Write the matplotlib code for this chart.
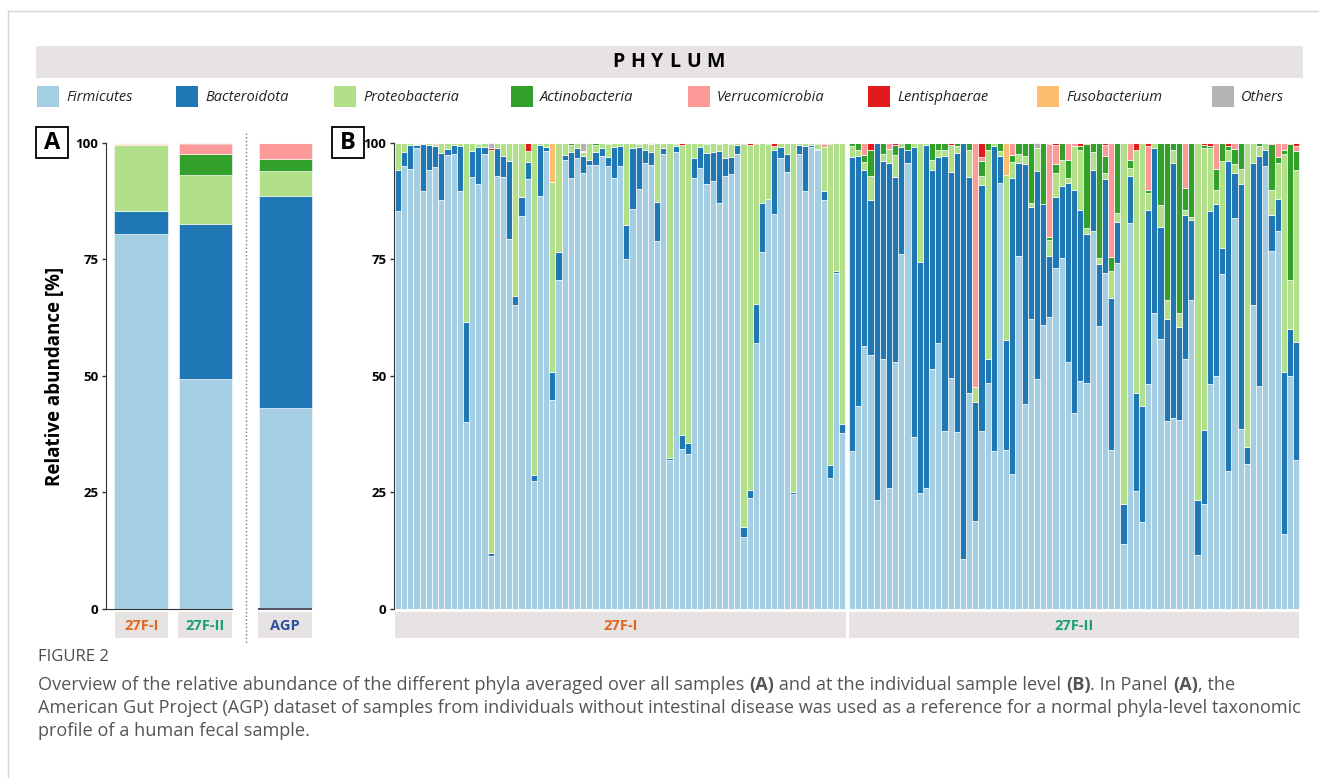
import numpy as np
import matplotlib.pyplot as plt
from matplotlib.patches import Rectangle

plt.rcParams['font.family'] = ['Open Sans', 'DejaVu Sans']

W, H = 1319, 778

phyla = ["Firmicutes", "Bacteroidota", "Proteobacteria", "Actinobacteria",
         "Verrucomicrobia", "Lentisphaerae", "Fusobacterium", "Others"]
colors = ["#a6cee3", "#1f78b4", "#b2df8a", "#33a02c",
          "#fb9a99", "#e31a1c", "#fdbf6f", "#b3b3b3"]

# ---- panel A: averaged profiles ----
groups_a = ["27F-I", "27F-II", "AGP"]
group_colors = ["#e0661e", "#1b9e77", "#2e4f9a"]
mean_firm = [80.4, 49.4, 43.1]
mean_bact = [5.0, 33.2, 45.5]
mean_prot = [14.2, 10.6, 5.3]
mean_acti = [0.0, 4.4, 2.7]
mean_verr = [0.1, 2.2, 3.4]
mean_lent = [0.0, 0.2, 0.0]
mean_fuso = [0.3, 0.0, 0.0]
mean_other = [0.0, 0.0, 0.0]

# ---- panel B: individual samples, 27F-I ----
firm_i = [85.3, 95.0, 94.5, 99.0, 89.7, 94.3, 94.8, 87.8, 97.5, 97.7,
          89.6, 40.1, 92.8, 91.2, 97.7, 11.3, 93.0, 92.8, 79.3, 65.3,
          84.3, 92.1, 27.4, 88.7, 98.3, 44.7, 70.6, 96.3, 92.4, 96.8,
          93.5, 95.2, 95.3, 97.3, 95.1, 92.5, 95.0, 75.1, 85.9, 90.2,
          95.7, 95.3, 78.9, 97.7, 31.8, 98.1, 34.2, 33.2, 92.5, 94.6,
          91.2, 91.9, 87.1, 93.0, 93.3, 97.6, 15.4, 23.8, 57.1, 76.5,
          87.9, 84.7, 96.7, 93.7, 24.6, 97.7, 89.6, 99.2, 98.4, 87.8,
          28.0, 72.0, 37.8]
bact_i = [9.0, 3.0, 5.0, 0.5, 10.0, 5.2, 4.5, 10.0, 1.3, 1.8,
          9.7, 21.4, 5.5, 8.0, 1.5, 0.7, 6.0, 4.3, 16.9, 1.8,
          4.0, 3.8, 1.2, 10.8, 0.8, 6.0, 6.0, 1.2, 5.6, 2.2,
          3.6, 1.1, 2.8, 1.6, 1.9, 6.7, 4.3, 7.3, 13.1, 9.0,
          2.9, 2.7, 8.5, 1.2, 0.5, 1.2, 3.0, 2.3, 4.3, 4.5,
          6.7, 6.2, 11.1, 3.7, 3.7, 2.0, 2.2, 1.6, 8.4, 10.6,
          0.0, 13.7, 2.4, 4.0, 0.4, 1.8, 9.7, 0.3, 0.4, 1.8,
          2.9, 0.5, 1.9]
prot_i = [5.7, 2.0, 0.5, 0.2, 0.3, 0.5, 0.4, 2.2, 1.2, 0.5,
          0.7, 38.5, 1.7, 0.6, 0.8, 86.6, 1.0, 2.9, 3.8, 32.9,
          11.7, 2.3, 71.4, 0.5, 0.9, 41.0, 23.4, 2.5, 1.6, 1.0,
          0.9, 3.7, 1.5, 1.1, 2.7, 0.8, 0.7, 17.6, 1.0, 0.5,
          1.4, 1.8, 12.6, 1.1, 67.7, 0.4, 62.3, 64.5, 3.2, 0.9,
          1.8, 1.9, 1.5, 3.3, 2.7, 0.4, 82.1, 74.2, 34.2, 12.9,
          11.9, 0.9, 0.9, 2.3, 75.0, 0.5, 0.7, 0.5, 0.9, 9.5,
          68.8, 27.5, 60.3]
acti_i = [0, 0, 0, 0, 0, 0, 0, 0, 0, 0,
          0, 0, 0, 0.2, 0, 0, 0, 0, 0, 0,
          0, 0, 0, 0, 0, 0, 0, 0, 0.4, 0,
          0, 0, 0.4, 0, 0.3, 0, 0, 0, 0, 0.3,
          0, 0, 0, 0, 0, 0.3, 0, 0, 0, 0,
          0.3, 0, 0.3, 0, 0.3, 0, 0, 0, 0, 0,
          0.2, 0, 0, 0, 0, 0, 0, 0, 0.3, 0,
          0, 0, 0]
verr_i = [0] * 69 + [0.6, 0, 0, 0]
lent_i = [0, 0, 0, 0, 0, 0, 0.3, 0, 0, 0,
          0, 0, 0, 0, 0, 0.3, 0, 0, 0, 0,
          0, 1.7, 0, 0, 0, 0, 0, 0, 0, 0,
          0, 0, 0, 0, 0, 0, 0, 0, 0, 0,
          0, 0, 0, 0, 0, 0, 0.5, 0, 0, 0,
          0, 0, 0, 0, 0, 0, 0.3, 0.4, 0.3, 0,
          0, 0.7, 0, 0, 0, 0, 0, 0, 0, 0.3,
          0.3, 0, 0]
fuso_i = [0, 0, 0, 0.3, 0, 0, 0, 0, 0, 0,
          0, 0, 0, 0, 0, 0, 0, 0, 0, 0,
          0, 0, 0, 0, 0, 8.3, 0, 0, 0, 0,
          0.2, 0, 0, 0, 0, 0, 0, 0, 0, 0,
          0, 0, 0, 0, 0, 0, 0, 0, 0, 0,
          0, 0, 0, 0, 0, 0, 0, 0, 0, 0,
          0, 0, 0, 0, 0, 0, 0, 0, 0, 0,
          0, 0, 0]
other_i = [0, 0, 0, 0, 0, 0, 0, 0, 0, 0,
           0, 0, 0, 0, 0, 1.1, 0, 0, 0, 0,
           0, 0, 0, 0, 0, 0, 0, 0, 0, 0,
           1.8, 0, 0, 0, 0, 0, 0, 0, 0, 0,
           0, 0.2, 0, 0, 0, 0, 0, 0, 0, 0,
           0, 0, 0, 0, 0, 0, 0, 0, 0, 0,
           0, 0, 0, 0, 0, 0, 0, 0, 0, 0,
           0, 0, 0]

# ---- panel B: individual samples, 27F-II ----
firm_ii = [33.8, 43.6, 56.4, 54.4, 23.4, 53.6, 25.8, 53.0, 76.1, 95.7,
           36.8, 24.8, 25.9, 51.4, 57.1, 38.1, 49.6, 37.9, 10.6, 46.3,
           18.7, 38.1, 48.5, 33.8, 91.5, 34.1, 28.8, 75.8, 44.0, 62.1,
           49.4, 60.9, 62.7, 73.2, 75.2, 53.0, 42.0, 48.9, 48.5, 81.1,
           60.7, 72.0, 34.0, 74.2, 13.9, 82.8, 25.3, 18.5, 48.2, 63.4,
           57.8, 40.3, 41.0, 40.6, 53.7, 66.3, 11.5, 22.5, 48.2, 50.0,
           71.8, 29.6, 83.8, 38.6, 31.1, 65.2, 47.9, 95.1, 76.7, 81.1,
           16.0, 50.0, 31.8]
bact_ii = [63.2, 53.5, 37.9, 33.4, 76.5, 42.5, 69.9, 39.6, 23.0, 2.7,
           62.3, 49.7, 73.6, 42.7, 39.8, 59.2, 44.1, 59.9, 89.3, 46.5,
           25.6, 52.9, 5.2, 65.5, 5.7, 23.5, 63.7, 19.9, 51.5, 24.1,
           44.5, 26.0, 13.1, 15.3, 15.6, 38.4, 48.0, 36.6, 31.9, 13.1,
           13.4, 20.2, 32.8, 8.8, 8.6, 10.2, 21.0, 24.9, 37.3, 35.6,
           24.1, 21.8, 54.7, 19.8, 30.9, 17.2, 11.8, 15.8, 37.1, 36.8,
           5.7, 66.6, 9.7, 52.5, 3.7, 30.4, 49.2, 3.3, 7.8, 6.9,
           34.8, 10.1, 25.5]
prot_ii = [2.3, 1.5, 1.6, 5.1, 0.1, 1.5, 3.1, 4.9, 0.9, 0.0,
           0.9, 25.5, 0.5, 2.2, 1.5, 1.1, 5.9, 1.5, 0.1, 5.6,
           3.3, 1.9, 44.7, 0.7, 1.0, 35.6, 3.4, 2.0, 1.8, 0.9,
           5.0, 0.0, 3.4, 5.0, 5.6, 1.1, 9.3, 12.9, 1.4, 3.9,
           1.1, 1.3, 5.6, 2.0, 77.5, 1.6, 52.1, 56.6, 3.8, 1.0,
           4.7, 4.2, 2.7, 3.1, 0.9, 0.7, 76.7, 60.7, 13.6, 3.1,
           18.7, 2.3, 2.0, 3.3, 65.2, 4.3, 2.2, 1.6, 5.3, 7.8,
           46.8, 10.4, 37.0]
acti_ii = [0.7, 1.4, 1.5, 5.5, 0.0, 2.4, 0.0, 2.0, 0.0, 1.6,
           0.0, 0.0, 0.0, 3.7, 1.6, 1.6, 0.0, 0.7, 0.0, 1.6,
           0.0, 3.3, 1.6, 0.0, 1.8, 0.0, 1.5, 2.3, 2.7, 12.9,
           0.0, 13.1, 0.7, 2.0, 3.6, 3.8, 0.0, 1.0, 17.9, 1.9,
           24.8, 3.8, 3.1, 15.0, 0.0, 1.7, 0.0, 0.0, 0.5, 0.0,
           13.4, 33.7, 1.6, 36.5, 4.8, 15.8, 0.0, 0.5, 0.5, 4.5,
           3.8, 0.9, 3.3, 5.6, 0.0, 0.1, 0.7, 0.0, 9.9, 1.2,
           0.8, 29.3, 3.9]
verr_ii = [0, 0, 2.6, 0, 0, 0, 1.2, 0, 0, 0,
           0, 0, 0, 0, 0, 0, 0, 0, 0, 0,
           52.4, 0.7, 0, 0, 0, 0, 2.6, 0, 0, 0,
           0, 0, 19.8, 4.1, 0, 3.7, 0.7, 0, 0, 0,
           0, 2.2, 24.5, 0, 0, 3.7, 0, 0, 9.6, 0,
           0, 0, 0, 0, 9.7, 0, 0, 0, 0, 5.6,
           0, 0, 1.2, 0, 0, 0, 0, 0, 0, 3.0,
           1.6, 0, 1.1]
lent_ii = [0, 0, 0, 1.6, 0, 0, 0, 0.5, 0, 0,
           0, 0, 0, 0, 0, 0, 0.4, 0, 0, 0,
           0, 3.1, 0, 0, 0, 0, 0, 0, 0, 0,
           0, 0, 0.3, 0.4, 0, 0, 0, 0.6, 0.3, 0,
           0, 0.5, 0, 0, 0, 0, 1.6, 0, 0.6, 0,
           0, 0, 0, 0, 0, 0, 0, 0.5, 0.6, 0,
           0, 0.6, 0, 0, 0, 0, 0, 0, 0.3, 0,
           0, 0.2, 0.7]
fuso_ii = [0] * 25 + [6.8] + [0] * 47
other_ii = [0] * 30 + [1.1] + [0] * 42


def px(x, y, w, h):
    # pixel box (top-left origin) -> figure fraction rect
    return [x / W, 1 - (y + h) / H, w / W, h / H]


def stack(ax, pos, series, width, lw=0.5):
    arr = np.array(series, dtype=float)
    arr = arr / arr.sum(axis=0) * 100
    bottom = np.zeros(arr.shape[1])
    for vals, c in zip(arr, colors):
        ax.bar(pos, vals, width, bottom=bottom, color=c,
               edgecolor='white', linewidth=lw)
        bottom += vals


fig = plt.figure(figsize=(W / 100, H / 100), dpi=100)
renderer = fig.canvas.get_renderer()

bg = fig.add_axes([0, 0, 1, 1], zorder=0)
bg.set_xlim(0, W)
bg.set_ylim(H, 0)
bg.axis('off')

# page frame lines
bg.plot([8, W], [11, 11], color='#d4d4d4', lw=1)
bg.plot([8, 8], [11, H], color='#d4d4d4', lw=1)

# header, letters spread with even gaps
bg.add_patch(Rectangle((36, 46), 1267, 32, color='#e8e3e3', lw=0))
letters = [bg.text(0, 62, ch, fontsize=14, fontweight='bold',
                   ha='left', va='center') for ch in "PHYLUM"]
widths = [t.get_window_extent(renderer).width for t in letters]
gap = (113 - sum(widths)) / 5
x = 612
for t, w in zip(letters, widths):
    t.set_x(x)
    x += w + gap

# legend
leg_x = [37, 176, 334, 511, 688, 868, 1037, 1212]
for lx, name, c in zip(leg_x, phyla, colors):
    bg.add_patch(Rectangle((lx, 86), 22, 21, color=c, lw=0))
    bg.text(lx + 29, 97, name, fontsize=10.5, style='italic',
            ha='left', va='center', color='#222222')

# panel labels
for lx, lab in [(36, "A"), (332, "B")]:
    bg.add_patch(Rectangle((lx, 127), 32, 31, fill=False,
                           edgecolor='black', lw=1.3))
    bg.text(lx + 16, 143, lab, fontsize=17, fontweight='bold',
            ha='center', va='center')

bg.text(55, 376, "Relative abundance [%]", rotation=90, fontsize=13.5,
        fontweight='bold', ha='center', va='center')

# ---- panel A ----
axA = fig.add_axes(px(106, 143, 224, 465.5), zorder=1)
axA.patch.set_alpha(0)
pos_a = np.array([0, 1, 2.25])
stack(axA, pos_a, [mean_firm, mean_bact, mean_prot, mean_acti, mean_verr,
                   mean_lent, mean_fuso, mean_other], 0.83, lw=0.4)
axA.set_xlim(-0.547, 2.95)
axA.set_ylim(0, 100)

# ---- panel B ----
axB = fig.add_axes(px(394, 143, 906, 465.5), zorder=1)
axB.patch.set_alpha(0)
pos_i = np.arange(len(firm_i))
pos_ii = 73.58 + np.arange(len(firm_ii))
stack(axB, pos_i, [firm_i, bact_i, prot_i, acti_i, verr_i, lent_i,
                   fuso_i, other_i], 1.0)
stack(axB, pos_ii, [firm_ii, bact_ii, prot_ii, acti_ii, verr_ii, lent_ii,
                    fuso_ii, other_ii], 1.0)
axB.set_xlim(-0.66, 146.2)
axB.set_ylim(0, 100)

for ax in (axA, axB):
    for s in ('top', 'right'):
        ax.spines[s].set_visible(False)
    ax.spines['left'].set_color('#333333')
    ax.set_yticks([0, 25, 50, 75, 100])
    ax.set_yticklabels(['0', '25', '50', '75', '100'], fontweight='bold',
                       fontsize=9.5)
    ax.tick_params(axis='y', length=3, width=1, color='#333333', pad=2.5)
    ax.set_xticks([])

axB.spines['bottom'].set_visible(False)
axA.spines['bottom'].set_color('#333333')
axA.spines['bottom'].set_bounds(-0.547, 1.42)
axA.hlines(0, 1.83, 2.67, color='#555566', lw=1.5, clip_on=False)

# dotted separator in panel A
bg.plot([246, 246], [133, 643], ls=':', color='#777777', lw=1)

# group label boxes
boxes = [(115, 53, groups_a[0], group_colors[0]),
         (178, 54, groups_a[1], group_colors[1]),
         (258, 54, groups_a[2], group_colors[2]),
         (395, 451, "27F-I", group_colors[0]),
         (849, 450, "27F-II", group_colors[1])]
for bx, bw, lab, c in boxes:
    bg.add_patch(Rectangle((bx, 612), bw, 26, color='#e8e3e3', lw=0))
    bg.text(bx + bw / 2, 625.5, lab, fontsize=10.5, fontweight='bold',
            color=c, ha='center', va='center')

# caption
bg.text(38, 657, "FIGURE 2", fontsize=12, color='#4a4a4a',
        ha='left', va='center')

cap_lines = [
    [("Overview of the relative abundance of the different phyla averaged over all samples ", 'normal'),
     ("(A)", 'bold'), (" and at the individual sample level ", 'normal'),
     ("(B)", 'bold'), (". In Panel ", 'normal'), ("(A)", 'bold'), (", the", 'normal')],
    [("American Gut Project (AGP) dataset of samples from individuals without intestinal disease was used as a reference for a normal phyla-level taxonomic", 'normal')],
    [("profile of a human fecal sample.", 'normal')],
]
for line, y in zip(cap_lines, [685, 708, 731]):
    x = 38
    for txt, wt in line:
        t = bg.text(x, y, txt, fontsize=13.1, fontweight=wt, color='#555555',
                    ha='left', va='center')
        bb = t.get_window_extent(renderer)
        x += bb.width

fig.savefig("out.png", dpi=100)
